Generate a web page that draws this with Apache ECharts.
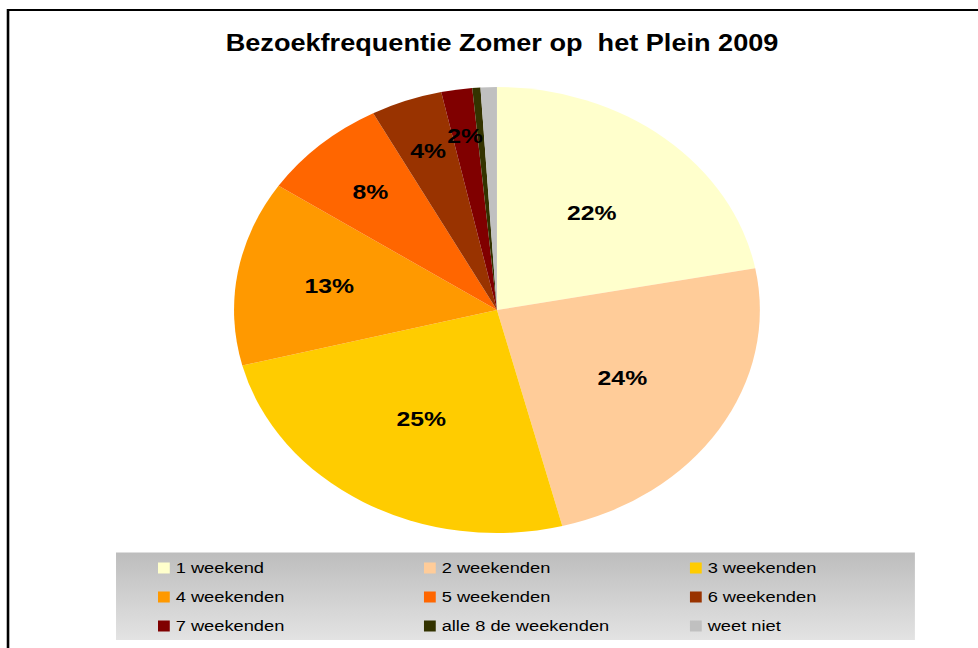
<!DOCTYPE html>
<html>
<head>
<meta charset="utf-8">
<script src="https://cdn.jsdelivr.net/npm/echarts@6/dist/echarts.min.js"></script>
<style>
  html, body { margin: 0; padding: 0; overflow: hidden; background: #fff; }
  /* the original picture is stretched sideways, so the whole chart is too */
  #chart { width: 829.5px; height: 648px; transform: scaleX(1.179); transform-origin: 0 0; }
</style>
</head>
<body>
<div id="chart"></div>
<script>
const names = [
  "1 weekend", "2 weekenden", "3 weekenden",
  "4 weekenden", "5 weekenden", "6 weekenden",
  "7 weekenden", "alle 8 de weekenden", "weet niet"
];
const values = [22.0, 24.0, 25.0, 13.4, 7.8, 4.4, 1.9, 0.5, 1.0];
const colors = [
  "#FFFFCC", "#FFCC99", "#FFCC00",
  "#FF9900", "#FF6600", "#993300",
  "#800000", "#333300", "#C0C0C0"
];

const cx = 421.5, cy = 310, radius = 223;
const chart = echarts.init(document.getElementById("chart"), null, { renderer: "svg" });

// excel pushes labels of small slices further out
function labelFrac(p) {
  return p >= 20 ? 0.565 : 0.565 + ((20 - p) / 20) * 0.25;
}

const legendBase = {
  orient: "vertical",
  top: 559,
  padding: 0,
  itemWidth: 10,
  itemHeight: 11,
  itemGap: 11,
  icon: "rect",
  selectedMode: false,
  textStyle: { fontFamily: "Liberation Sans, Arial", fontSize: 15.5, color: "#000", lineHeight: 18 },
};

const option = {
  animation: false,
  title: {
    text: "Bezoekfrequentie Zomer op  het Plein 2009",
    left: 425.8,
    textAlign: "center",
    top: 31,
    padding: 0,
    textStyle: { fontFamily: "Liberation Sans, Arial", fontSize: 23, fontWeight: "bold", color: "#000" },
  },
  graphic: [
    {
      type: "rect",
      shape: { x: 6.8, y: 10, width: 900, height: 700 },
      style: { fill: "none", stroke: "#000", lineWidth: 2.2 },
    },
    {
      type: "rect",
      shape: { x: 98.4, y: 552.5, width: 677.6, height: 87.5 },
      style: {
        fill: new echarts.graphic.LinearGradient(0, 0, 0, 1, [
          { offset: 0, color: "#bdbdbd" },
          { offset: 1, color: "#e3e3e3" },
        ]),
      },
      z: -1,
    },
  ],
  legend: [
    Object.assign({}, legendBase, { left: 134, data: [names[0], names[3], names[6]] }),
    Object.assign({}, legendBase, { left: 359.6, data: [names[1], names[4], names[7]] }),
    Object.assign({}, legendBase, { left: 585.2, data: [names[2], names[5], names[8]] }),
  ],
  series: [
    {
      type: "pie",
      center: [cx, cy],
      radius: [0, radius],
      startAngle: 90,
      clockwise: true,
      avoidLabelOverlap: false,
      silent: true,
      data: names.map((n, i) => ({ name: n, value: values[i], itemStyle: { color: colors[i] } })),
      itemStyle: { borderWidth: 0 },
      label: {
        show: true,
        position: "inside",
        fontFamily: "Liberation Sans, Arial",
        fontSize: 21,
        fontWeight: "bold",
        color: "#000",
        formatter: (p) => (p.percent < 1.2 ? "" : Math.round(p.percent) + "%"),
      },
      labelLine: { show: false },
      labelLayout: function (params) {
        const r = params.labelRect;
        const lx = r.x + r.width / 2, ly = r.y + r.height / 2;
        const vx = lx - cx, vy = ly - cy;
        const len = Math.sqrt(vx * vx + vy * vy) || 1;
        const k = (labelFrac(values[params.dataIndex]) * radius) / len - 1;
        return { dx: vx * k, dy: vy * k };
      },
    },
  ],
};

chart.setOption(option);
</script>
</body>
</html>
